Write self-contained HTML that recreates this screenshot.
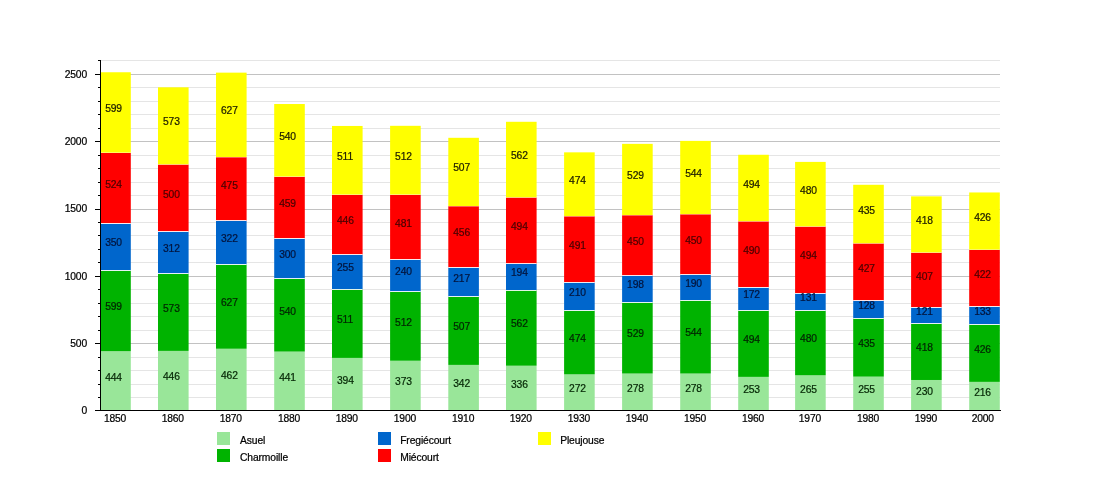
<!DOCTYPE html><html><head><meta charset="utf-8"><title>Population</title>
<style>html,body{margin:0;padding:0;background:#fff}svg{display:block}text{font-family:"Liberation Sans",Arial,Helvetica,sans-serif;font-size:10.3px;letter-spacing:-0.3px;stroke-width:0.22px}.k text{stroke:#000}.v text{letter-spacing:-0.15px}.y text,.l text{letter-spacing:-0.12px}.x text{letter-spacing:-0.17px}</style></head><body>
<svg width="1100" height="500" viewBox="0 0 1100 500">
<rect width="1100" height="500" fill="#fff"/>
<line x1="101" x2="1000" y1="397.5" y2="397.5" stroke="#E5E5E5" stroke-width="1"/>
<line x1="101" x2="1000" y1="384.5" y2="384.5" stroke="#E5E5E5" stroke-width="1"/>
<line x1="101" x2="1000" y1="370.5" y2="370.5" stroke="#E5E5E5" stroke-width="1"/>
<line x1="101" x2="1000" y1="357.5" y2="357.5" stroke="#E5E5E5" stroke-width="1"/>
<line x1="101" x2="1000" y1="343.5" y2="343.5" stroke="#C2C2C2" stroke-width="1"/>
<line x1="101" x2="1000" y1="330.5" y2="330.5" stroke="#E5E5E5" stroke-width="1"/>
<line x1="101" x2="1000" y1="316.5" y2="316.5" stroke="#E5E5E5" stroke-width="1"/>
<line x1="101" x2="1000" y1="303.5" y2="303.5" stroke="#E5E5E5" stroke-width="1"/>
<line x1="101" x2="1000" y1="289.5" y2="289.5" stroke="#E5E5E5" stroke-width="1"/>
<line x1="101" x2="1000" y1="276.5" y2="276.5" stroke="#C2C2C2" stroke-width="1"/>
<line x1="101" x2="1000" y1="262.5" y2="262.5" stroke="#E5E5E5" stroke-width="1"/>
<line x1="101" x2="1000" y1="249.5" y2="249.5" stroke="#E5E5E5" stroke-width="1"/>
<line x1="101" x2="1000" y1="235.5" y2="235.5" stroke="#E5E5E5" stroke-width="1"/>
<line x1="101" x2="1000" y1="222.5" y2="222.5" stroke="#E5E5E5" stroke-width="1"/>
<line x1="101" x2="1000" y1="209.5" y2="209.5" stroke="#C2C2C2" stroke-width="1"/>
<line x1="101" x2="1000" y1="195.5" y2="195.5" stroke="#E5E5E5" stroke-width="1"/>
<line x1="101" x2="1000" y1="182.5" y2="182.5" stroke="#E5E5E5" stroke-width="1"/>
<line x1="101" x2="1000" y1="168.5" y2="168.5" stroke="#E5E5E5" stroke-width="1"/>
<line x1="101" x2="1000" y1="155.5" y2="155.5" stroke="#E5E5E5" stroke-width="1"/>
<line x1="101" x2="1000" y1="141.5" y2="141.5" stroke="#C2C2C2" stroke-width="1"/>
<line x1="101" x2="1000" y1="128.5" y2="128.5" stroke="#E5E5E5" stroke-width="1"/>
<line x1="101" x2="1000" y1="114.5" y2="114.5" stroke="#E5E5E5" stroke-width="1"/>
<line x1="101" x2="1000" y1="101.5" y2="101.5" stroke="#E5E5E5" stroke-width="1"/>
<line x1="101" x2="1000" y1="87.5" y2="87.5" stroke="#E5E5E5" stroke-width="1"/>
<line x1="101" x2="1000" y1="74.5" y2="74.5" stroke="#C2C2C2" stroke-width="1"/>
<line x1="101" x2="1000" y1="60.5" y2="60.5" stroke="#E5E5E5" stroke-width="1"/>
<rect x="100.20" y="351.17" width="30.60" height="59.77" fill="#99E699"/>
<rect x="100.20" y="270.54" width="30.60" height="80.63" fill="#00B300"/>
<rect x="100.20" y="223.42" width="30.60" height="47.12" fill="#0066CC"/>
<rect x="100.20" y="152.88" width="30.60" height="70.54" fill="#FF0000"/>
<rect x="100.20" y="72.25" width="30.60" height="80.63" fill="#FFFF00"/>
<rect x="158.00" y="350.90" width="30.60" height="60.04" fill="#99E699"/>
<rect x="158.00" y="273.77" width="30.60" height="77.13" fill="#00B300"/>
<rect x="158.00" y="231.77" width="30.60" height="42.00" fill="#0066CC"/>
<rect x="158.00" y="164.46" width="30.60" height="67.31" fill="#FF0000"/>
<rect x="158.00" y="87.32" width="30.60" height="77.13" fill="#FFFF00"/>
<rect x="216.00" y="348.75" width="30.60" height="62.19" fill="#99E699"/>
<rect x="216.00" y="264.34" width="30.60" height="84.40" fill="#00B300"/>
<rect x="216.00" y="221.00" width="30.60" height="43.35" fill="#0066CC"/>
<rect x="216.00" y="157.06" width="30.60" height="63.94" fill="#FF0000"/>
<rect x="216.00" y="72.65" width="30.60" height="84.40" fill="#FFFF00"/>
<rect x="274.20" y="351.57" width="30.60" height="59.37" fill="#99E699"/>
<rect x="274.20" y="278.88" width="30.60" height="72.69" fill="#00B300"/>
<rect x="274.20" y="238.50" width="30.60" height="40.38" fill="#0066CC"/>
<rect x="274.20" y="176.71" width="30.60" height="61.79" fill="#FF0000"/>
<rect x="274.20" y="104.02" width="30.60" height="72.69" fill="#FFFF00"/>
<rect x="332.00" y="357.90" width="30.60" height="53.04" fill="#99E699"/>
<rect x="332.00" y="289.11" width="30.60" height="68.79" fill="#00B300"/>
<rect x="332.00" y="254.79" width="30.60" height="34.33" fill="#0066CC"/>
<rect x="332.00" y="194.75" width="30.60" height="60.04" fill="#FF0000"/>
<rect x="332.00" y="125.96" width="30.60" height="68.79" fill="#FFFF00"/>
<rect x="390.10" y="360.73" width="30.60" height="50.21" fill="#99E699"/>
<rect x="390.10" y="291.81" width="30.60" height="68.92" fill="#00B300"/>
<rect x="390.10" y="259.50" width="30.60" height="32.31" fill="#0066CC"/>
<rect x="390.10" y="194.75" width="30.60" height="64.75" fill="#FF0000"/>
<rect x="390.10" y="125.82" width="30.60" height="68.92" fill="#FFFF00"/>
<rect x="448.30" y="364.90" width="30.60" height="46.04" fill="#99E699"/>
<rect x="448.30" y="296.65" width="30.60" height="68.25" fill="#00B300"/>
<rect x="448.30" y="267.44" width="30.60" height="29.21" fill="#0066CC"/>
<rect x="448.30" y="206.06" width="30.60" height="61.38" fill="#FF0000"/>
<rect x="448.30" y="137.81" width="30.60" height="68.25" fill="#FFFF00"/>
<rect x="506.00" y="365.71" width="30.60" height="45.23" fill="#99E699"/>
<rect x="506.00" y="290.06" width="30.60" height="75.65" fill="#00B300"/>
<rect x="506.00" y="263.94" width="30.60" height="26.12" fill="#0066CC"/>
<rect x="506.00" y="197.44" width="30.60" height="66.50" fill="#FF0000"/>
<rect x="506.00" y="121.79" width="30.60" height="75.65" fill="#FFFF00"/>
<rect x="564.10" y="374.32" width="30.60" height="36.62" fill="#99E699"/>
<rect x="564.10" y="310.52" width="30.60" height="63.81" fill="#00B300"/>
<rect x="564.10" y="282.25" width="30.60" height="28.27" fill="#0066CC"/>
<rect x="564.10" y="216.15" width="30.60" height="66.10" fill="#FF0000"/>
<rect x="564.10" y="152.34" width="30.60" height="63.81" fill="#FFFF00"/>
<rect x="622.10" y="373.52" width="30.60" height="37.42" fill="#99E699"/>
<rect x="622.10" y="302.31" width="30.60" height="71.21" fill="#00B300"/>
<rect x="622.10" y="275.65" width="30.60" height="26.65" fill="#0066CC"/>
<rect x="622.10" y="215.07" width="30.60" height="60.58" fill="#FF0000"/>
<rect x="622.10" y="143.86" width="30.60" height="71.21" fill="#FFFF00"/>
<rect x="680.20" y="373.52" width="30.60" height="37.42" fill="#99E699"/>
<rect x="680.20" y="300.29" width="30.60" height="73.23" fill="#00B300"/>
<rect x="680.20" y="274.71" width="30.60" height="25.58" fill="#0066CC"/>
<rect x="680.20" y="214.13" width="30.60" height="60.58" fill="#FF0000"/>
<rect x="680.20" y="140.90" width="30.60" height="73.23" fill="#FFFF00"/>
<rect x="738.20" y="376.88" width="30.60" height="34.06" fill="#99E699"/>
<rect x="738.20" y="310.38" width="30.60" height="66.50" fill="#00B300"/>
<rect x="738.20" y="287.23" width="30.60" height="23.15" fill="#0066CC"/>
<rect x="738.20" y="221.27" width="30.60" height="65.96" fill="#FF0000"/>
<rect x="738.20" y="154.77" width="30.60" height="66.50" fill="#FFFF00"/>
<rect x="795.10" y="375.27" width="30.60" height="35.67" fill="#99E699"/>
<rect x="795.10" y="310.65" width="30.60" height="64.62" fill="#00B300"/>
<rect x="795.10" y="293.02" width="30.60" height="17.63" fill="#0066CC"/>
<rect x="795.10" y="226.52" width="30.60" height="66.50" fill="#FF0000"/>
<rect x="795.10" y="161.90" width="30.60" height="64.62" fill="#FFFF00"/>
<rect x="853.20" y="376.61" width="30.60" height="34.33" fill="#99E699"/>
<rect x="853.20" y="318.06" width="30.60" height="58.56" fill="#00B300"/>
<rect x="853.20" y="300.82" width="30.60" height="17.23" fill="#0066CC"/>
<rect x="853.20" y="243.34" width="30.60" height="57.48" fill="#FF0000"/>
<rect x="853.20" y="184.79" width="30.60" height="58.56" fill="#FFFF00"/>
<rect x="911.10" y="379.98" width="30.60" height="30.96" fill="#99E699"/>
<rect x="911.10" y="323.71" width="30.60" height="56.27" fill="#00B300"/>
<rect x="911.10" y="307.42" width="30.60" height="16.29" fill="#0066CC"/>
<rect x="911.10" y="252.63" width="30.60" height="54.79" fill="#FF0000"/>
<rect x="911.10" y="196.36" width="30.60" height="56.27" fill="#FFFF00"/>
<rect x="969.20" y="381.86" width="30.60" height="29.08" fill="#99E699"/>
<rect x="969.20" y="324.52" width="30.60" height="57.35" fill="#00B300"/>
<rect x="969.20" y="306.61" width="30.60" height="17.90" fill="#0066CC"/>
<rect x="969.20" y="249.81" width="30.60" height="56.81" fill="#FF0000"/>
<rect x="969.20" y="192.46" width="30.60" height="57.35" fill="#FFFF00"/>
<rect x="100.20" y="270.00" width="30.60" height="1" fill="#fff" fill-opacity="0.88"/>
<rect x="100.20" y="223.00" width="30.60" height="1" fill="#fff" fill-opacity="0.88"/>
<rect x="100.20" y="152.00" width="30.60" height="1" fill="#fff" fill-opacity="0.3"/>
<rect x="158.00" y="273.00" width="30.60" height="1" fill="#fff" fill-opacity="0.88"/>
<rect x="158.00" y="231.00" width="30.60" height="1" fill="#fff" fill-opacity="0.88"/>
<rect x="158.00" y="164.00" width="30.60" height="1" fill="#fff" fill-opacity="0.3"/>
<rect x="216.00" y="264.00" width="30.60" height="1" fill="#fff" fill-opacity="0.88"/>
<rect x="216.00" y="220.00" width="30.60" height="1" fill="#fff" fill-opacity="0.88"/>
<rect x="216.00" y="157.00" width="30.60" height="1" fill="#fff" fill-opacity="0.3"/>
<rect x="274.20" y="278.00" width="30.60" height="1" fill="#fff" fill-opacity="0.88"/>
<rect x="274.20" y="238.00" width="30.60" height="1" fill="#fff" fill-opacity="0.88"/>
<rect x="274.20" y="176.00" width="30.60" height="1" fill="#fff" fill-opacity="0.3"/>
<rect x="332.00" y="289.00" width="30.60" height="1" fill="#fff" fill-opacity="0.88"/>
<rect x="332.00" y="254.00" width="30.60" height="1" fill="#fff" fill-opacity="0.88"/>
<rect x="332.00" y="194.00" width="30.60" height="1" fill="#fff" fill-opacity="0.3"/>
<rect x="390.10" y="291.00" width="30.60" height="1" fill="#fff" fill-opacity="0.88"/>
<rect x="390.10" y="259.00" width="30.60" height="1" fill="#fff" fill-opacity="0.88"/>
<rect x="390.10" y="194.00" width="30.60" height="1" fill="#fff" fill-opacity="0.3"/>
<rect x="448.30" y="296.00" width="30.60" height="1" fill="#fff" fill-opacity="0.88"/>
<rect x="448.30" y="267.00" width="30.60" height="1" fill="#fff" fill-opacity="0.88"/>
<rect x="448.30" y="206.00" width="30.60" height="1" fill="#fff" fill-opacity="0.3"/>
<rect x="506.00" y="290.00" width="30.60" height="1" fill="#fff" fill-opacity="0.88"/>
<rect x="506.00" y="263.00" width="30.60" height="1" fill="#fff" fill-opacity="0.88"/>
<rect x="506.00" y="197.00" width="30.60" height="1" fill="#fff" fill-opacity="0.3"/>
<rect x="564.10" y="310.00" width="30.60" height="1" fill="#fff" fill-opacity="0.88"/>
<rect x="564.10" y="282.00" width="30.60" height="1" fill="#fff" fill-opacity="0.88"/>
<rect x="564.10" y="216.00" width="30.60" height="1" fill="#fff" fill-opacity="0.3"/>
<rect x="622.10" y="302.00" width="30.60" height="1" fill="#fff" fill-opacity="0.88"/>
<rect x="622.10" y="275.00" width="30.60" height="1" fill="#fff" fill-opacity="0.88"/>
<rect x="622.10" y="215.00" width="30.60" height="1" fill="#fff" fill-opacity="0.3"/>
<rect x="680.20" y="300.00" width="30.60" height="1" fill="#fff" fill-opacity="0.88"/>
<rect x="680.20" y="274.00" width="30.60" height="1" fill="#fff" fill-opacity="0.88"/>
<rect x="680.20" y="214.00" width="30.60" height="1" fill="#fff" fill-opacity="0.3"/>
<rect x="738.20" y="310.00" width="30.60" height="1" fill="#fff" fill-opacity="0.88"/>
<rect x="738.20" y="287.00" width="30.60" height="1" fill="#fff" fill-opacity="0.88"/>
<rect x="738.20" y="221.00" width="30.60" height="1" fill="#fff" fill-opacity="0.3"/>
<rect x="795.10" y="310.00" width="30.60" height="1" fill="#fff" fill-opacity="0.88"/>
<rect x="795.10" y="293.00" width="30.60" height="1" fill="#fff" fill-opacity="0.88"/>
<rect x="795.10" y="226.00" width="30.60" height="1" fill="#fff" fill-opacity="0.3"/>
<rect x="853.20" y="318.00" width="30.60" height="1" fill="#fff" fill-opacity="0.88"/>
<rect x="853.20" y="300.00" width="30.60" height="1" fill="#fff" fill-opacity="0.88"/>
<rect x="853.20" y="243.00" width="30.60" height="1" fill="#fff" fill-opacity="0.3"/>
<rect x="911.10" y="323.00" width="30.60" height="1" fill="#fff" fill-opacity="0.88"/>
<rect x="911.10" y="307.00" width="30.60" height="1" fill="#fff" fill-opacity="0.88"/>
<rect x="911.10" y="252.00" width="30.60" height="1" fill="#fff" fill-opacity="0.3"/>
<rect x="969.20" y="324.00" width="30.60" height="1" fill="#fff" fill-opacity="0.88"/>
<rect x="969.20" y="306.00" width="30.60" height="1" fill="#fff" fill-opacity="0.88"/>
<rect x="969.20" y="249.00" width="30.60" height="1" fill="#fff" fill-opacity="0.3"/>
<rect x="100" y="60" width="1" height="351" fill="#000"/>
<rect x="95" y="410" width="906" height="1" fill="#000"/>
<rect x="98" y="397" width="2" height="1" fill="#000"/>
<rect x="98" y="384" width="2" height="1" fill="#000"/>
<rect x="98" y="370" width="2" height="1" fill="#000"/>
<rect x="98" y="357" width="2" height="1" fill="#000"/>
<rect x="95" y="343" width="5" height="1" fill="#000"/>
<rect x="98" y="330" width="2" height="1" fill="#000"/>
<rect x="98" y="316" width="2" height="1" fill="#000"/>
<rect x="98" y="303" width="2" height="1" fill="#000"/>
<rect x="98" y="289" width="2" height="1" fill="#000"/>
<rect x="95" y="276" width="5" height="1" fill="#000"/>
<rect x="98" y="262" width="2" height="1" fill="#000"/>
<rect x="98" y="249" width="2" height="1" fill="#000"/>
<rect x="98" y="235" width="2" height="1" fill="#000"/>
<rect x="98" y="222" width="2" height="1" fill="#000"/>
<rect x="95" y="209" width="5" height="1" fill="#000"/>
<rect x="98" y="195" width="2" height="1" fill="#000"/>
<rect x="98" y="182" width="2" height="1" fill="#000"/>
<rect x="98" y="168" width="2" height="1" fill="#000"/>
<rect x="98" y="155" width="2" height="1" fill="#000"/>
<rect x="95" y="141" width="5" height="1" fill="#000"/>
<rect x="98" y="128" width="2" height="1" fill="#000"/>
<rect x="98" y="114" width="2" height="1" fill="#000"/>
<rect x="98" y="101" width="2" height="1" fill="#000"/>
<rect x="98" y="87" width="2" height="1" fill="#000"/>
<rect x="95" y="74" width="5" height="1" fill="#000"/>
<rect x="98" y="60" width="2" height="1" fill="#000"/>
<g class="v">
<text x="105.2" y="380.7" fill="#062806" stroke="#062806">444</text>
<text x="105.2" y="309.7" fill="#002400" stroke="#002400">599</text>
<text x="105.2" y="245.7" fill="#03143c" stroke="#03143c">350</text>
<text x="105.2" y="187.7" fill="#4a0000" stroke="#4a0000">524</text>
<text x="105.2" y="111.7" fill="#1c1c00" stroke="#1c1c00">599</text>
<text x="163.0" y="379.7" fill="#062806" stroke="#062806">446</text>
<text x="163.0" y="311.7" fill="#002400" stroke="#002400">573</text>
<text x="163.0" y="251.7" fill="#03143c" stroke="#03143c">312</text>
<text x="163.0" y="197.7" fill="#4a0000" stroke="#4a0000">500</text>
<text x="163.0" y="124.7" fill="#1c1c00" stroke="#1c1c00">573</text>
<text x="221.0" y="378.7" fill="#062806" stroke="#062806">462</text>
<text x="221.0" y="305.7" fill="#002400" stroke="#002400">627</text>
<text x="221.0" y="241.7" fill="#03143c" stroke="#03143c">322</text>
<text x="221.0" y="188.7" fill="#4a0000" stroke="#4a0000">475</text>
<text x="221.0" y="113.7" fill="#1c1c00" stroke="#1c1c00">627</text>
<text x="279.2" y="380.7" fill="#062806" stroke="#062806">441</text>
<text x="279.2" y="314.7" fill="#002400" stroke="#002400">540</text>
<text x="279.2" y="257.7" fill="#03143c" stroke="#03143c">300</text>
<text x="279.2" y="206.7" fill="#4a0000" stroke="#4a0000">459</text>
<text x="279.2" y="139.7" fill="#1c1c00" stroke="#1c1c00">540</text>
<text x="337.0" y="383.7" fill="#062806" stroke="#062806">394</text>
<text x="337.0" y="322.7" fill="#002400" stroke="#002400">511</text>
<text x="337.0" y="270.7" fill="#03143c" stroke="#03143c">255</text>
<text x="337.0" y="223.7" fill="#4a0000" stroke="#4a0000">446</text>
<text x="337.0" y="159.7" fill="#1c1c00" stroke="#1c1c00">511</text>
<text x="395.1" y="384.7" fill="#062806" stroke="#062806">373</text>
<text x="395.1" y="325.7" fill="#002400" stroke="#002400">512</text>
<text x="395.1" y="274.7" fill="#03143c" stroke="#03143c">240</text>
<text x="395.1" y="226.7" fill="#4a0000" stroke="#4a0000">481</text>
<text x="395.1" y="159.7" fill="#1c1c00" stroke="#1c1c00">512</text>
<text x="453.3" y="386.7" fill="#062806" stroke="#062806">342</text>
<text x="453.3" y="329.7" fill="#002400" stroke="#002400">507</text>
<text x="453.3" y="281.7" fill="#03143c" stroke="#03143c">217</text>
<text x="453.3" y="235.7" fill="#4a0000" stroke="#4a0000">456</text>
<text x="453.3" y="170.7" fill="#1c1c00" stroke="#1c1c00">507</text>
<text x="511.0" y="387.7" fill="#062806" stroke="#062806">336</text>
<text x="511.0" y="326.7" fill="#002400" stroke="#002400">562</text>
<text x="511.0" y="275.7" fill="#03143c" stroke="#03143c">194</text>
<text x="511.0" y="229.7" fill="#4a0000" stroke="#4a0000">494</text>
<text x="511.0" y="158.7" fill="#1c1c00" stroke="#1c1c00">562</text>
<text x="569.1" y="391.7" fill="#062806" stroke="#062806">272</text>
<text x="569.1" y="341.7" fill="#002400" stroke="#002400">474</text>
<text x="569.1" y="295.7" fill="#03143c" stroke="#03143c">210</text>
<text x="569.1" y="248.7" fill="#4a0000" stroke="#4a0000">491</text>
<text x="569.1" y="183.7" fill="#1c1c00" stroke="#1c1c00">474</text>
<text x="627.1" y="391.7" fill="#062806" stroke="#062806">278</text>
<text x="627.1" y="336.7" fill="#002400" stroke="#002400">529</text>
<text x="627.1" y="287.7" fill="#03143c" stroke="#03143c">198</text>
<text x="627.1" y="244.7" fill="#4a0000" stroke="#4a0000">450</text>
<text x="627.1" y="178.7" fill="#1c1c00" stroke="#1c1c00">529</text>
<text x="685.2" y="391.7" fill="#062806" stroke="#062806">278</text>
<text x="685.2" y="335.7" fill="#002400" stroke="#002400">544</text>
<text x="685.2" y="286.7" fill="#03143c" stroke="#03143c">190</text>
<text x="685.2" y="243.7" fill="#4a0000" stroke="#4a0000">450</text>
<text x="685.2" y="176.7" fill="#1c1c00" stroke="#1c1c00">544</text>
<text x="743.2" y="392.7" fill="#062806" stroke="#062806">253</text>
<text x="743.2" y="342.7" fill="#002400" stroke="#002400">494</text>
<text x="743.2" y="297.7" fill="#03143c" stroke="#03143c">172</text>
<text x="743.2" y="253.7" fill="#4a0000" stroke="#4a0000">490</text>
<text x="743.2" y="187.7" fill="#1c1c00" stroke="#1c1c00">494</text>
<text x="800.1" y="392.7" fill="#062806" stroke="#062806">265</text>
<text x="800.1" y="341.7" fill="#002400" stroke="#002400">480</text>
<text x="800.1" y="300.7" fill="#03143c" stroke="#03143c">131</text>
<text x="800.1" y="258.7" fill="#4a0000" stroke="#4a0000">494</text>
<text x="800.1" y="193.7" fill="#1c1c00" stroke="#1c1c00">480</text>
<text x="858.2" y="392.7" fill="#062806" stroke="#062806">255</text>
<text x="858.2" y="346.7" fill="#002400" stroke="#002400">435</text>
<text x="858.2" y="308.7" fill="#03143c" stroke="#03143c">128</text>
<text x="858.2" y="271.7" fill="#4a0000" stroke="#4a0000">427</text>
<text x="858.2" y="213.7" fill="#1c1c00" stroke="#1c1c00">435</text>
<text x="916.1" y="394.7" fill="#062806" stroke="#062806">230</text>
<text x="916.1" y="350.7" fill="#002400" stroke="#002400">418</text>
<text x="916.1" y="314.7" fill="#03143c" stroke="#03143c">121</text>
<text x="916.1" y="279.7" fill="#4a0000" stroke="#4a0000">407</text>
<text x="916.1" y="223.7" fill="#1c1c00" stroke="#1c1c00">418</text>
<text x="974.2" y="395.7" fill="#062806" stroke="#062806">216</text>
<text x="974.2" y="352.7" fill="#002400" stroke="#002400">426</text>
<text x="974.2" y="314.7" fill="#03143c" stroke="#03143c">133</text>
<text x="974.2" y="277.7" fill="#4a0000" stroke="#4a0000">422</text>
<text x="974.2" y="220.7" fill="#1c1c00" stroke="#1c1c00">426</text>
</g>
<g class="k x">
<text x="115.0" y="422" text-anchor="middle">1850</text>
<text x="172.8" y="422" text-anchor="middle">1860</text>
<text x="230.8" y="422" text-anchor="middle">1870</text>
<text x="289.0" y="422" text-anchor="middle">1880</text>
<text x="346.8" y="422" text-anchor="middle">1890</text>
<text x="404.9" y="422" text-anchor="middle">1900</text>
<text x="463.1" y="422" text-anchor="middle">1910</text>
<text x="520.8" y="422" text-anchor="middle">1920</text>
<text x="578.9" y="422" text-anchor="middle">1930</text>
<text x="636.9" y="422" text-anchor="middle">1940</text>
<text x="695.0" y="422" text-anchor="middle">1950</text>
<text x="753.0" y="422" text-anchor="middle">1960</text>
<text x="809.9" y="422" text-anchor="middle">1970</text>
<text x="868.0" y="422" text-anchor="middle">1980</text>
<text x="925.9" y="422" text-anchor="middle">1990</text>
<text x="982.8" y="422" text-anchor="middle">2000</text>
</g>
<g class="k y">
<text x="87.1" y="414.1" text-anchor="end">0</text>
<text x="87.1" y="346.8" text-anchor="end">500</text>
<text x="87.1" y="279.5" text-anchor="end">1000</text>
<text x="87.1" y="212.2" text-anchor="end">1500</text>
<text x="87.1" y="144.9" text-anchor="end">2000</text>
<text x="87.1" y="77.6" text-anchor="end">2500</text>
</g>
<g class="k l">
<rect x="217" y="432" width="13" height="13" fill="#99E699"/>
<text x="240.0" y="444">Asuel</text>
<rect x="217" y="449" width="13" height="13" fill="#00B300"/>
<text x="240.0" y="461">Charmoille</text>
<rect x="378" y="432" width="13" height="13" fill="#0066CC"/>
<text x="400.2" y="444">Fregiécourt</text>
<rect x="378" y="449" width="13" height="13" fill="#FF0000"/>
<text x="400.2" y="461">Miécourt</text>
<rect x="538" y="432" width="13" height="13" fill="#FFFF00"/>
<text x="560.2" y="444">Pleujouse</text>
</g>
</svg></body></html>
